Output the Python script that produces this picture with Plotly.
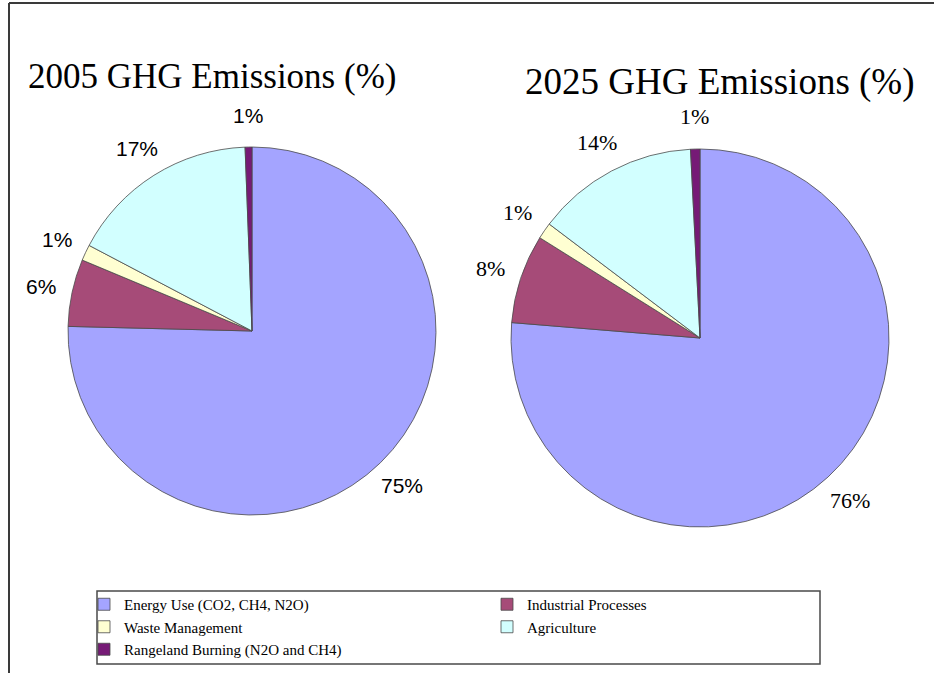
import math
import plotly.graph_objects as go

categories = ["Energy Use (CO2, CH4, N2O)", "Industrial Processes", "Waste Management",
              "Agriculture", "Rangeland Burning (N2O and CH4)"]
values_2005 = [75.4, 5.9, 1.4, 16.7, 0.6]
values_2025 = [76.3, 7.6, 1.4, 13.9, 0.8]
titles = ["2005 GHG Emissions (%)", "2025 GHG Emissions (%)"]
colors = ["#A4A4FF", "#A64B78", "#FFFFD2", "#D2FFFF", "#761A76"]

W, H = 934, 673
# pie geometry in pixels: (cx, cy, r)
geoms = [(252, 331, 184), (700, 338, 189)]
label_fonts = [dict(family="Liberation Sans, Arial", size=21, color="black"),
               dict(family="Liberation Serif, Times New Roman", size=22, color="black")]

fig = go.Figure()
annotations = []
for i, (vals, (cx, cy, r)) in enumerate(zip([values_2005, values_2025], geoms)):
    fig.add_trace(go.Pie(
        labels=categories, values=vals, sort=False, direction="clockwise", rotation=0,
        marker=dict(colors=colors, line=dict(color="#4a4a4a", width=0.8)),
        textinfo="none", hoverinfo="label+percent",
        domain=dict(x=[(cx - r) / W, (cx + r) / W], y=[1 - (cy + r) / H, 1 - (cy - r) / H]),
        showlegend=(i == 0),
    ))
    total = sum(vals)
    cum = 0
    for v in vals:
        mid = (cum + v / 2) / total * 2 * math.pi
        cum += v
        d = r * 1.17
        px = cx + d * math.sin(mid)
        py = cy - d * math.cos(mid)
        annotations.append(dict(
            x=px / W, y=1 - py / H, xref="paper", yref="paper",
            text=f"{round(v / total * 100)}%", showarrow=False,
            xanchor="center", yanchor="middle", font=label_fonts[i]))

annotations.append(dict(x=212 / W, y=1 - 76 / H, xref="paper", yref="paper", text=titles[0],
                        showarrow=False, xanchor="center", yanchor="middle",
                        font=dict(family="Liberation Serif, Times New Roman", size=35, color="black")))
annotations.append(dict(x=720 / W, y=1 - 82 / H, xref="paper", yref="paper", text=titles[1],
                        showarrow=False, xanchor="center", yanchor="middle",
                        font=dict(family="Liberation Serif, Times New Roman", size=37, color="black")))

shapes = [
    dict(type="line", xref="paper", yref="paper", x0=9 / W, x1=1, y0=1 - 3 / H, y1=1 - 3 / H,
         line=dict(color="#3a3a3a", width=2)),
    dict(type="line", xref="paper", yref="paper", x0=9 / W, x1=9 / W, y0=1 - 3 / H, y1=0,
         line=dict(color="#3a3a3a", width=2)),
    dict(type="rect", xref="paper", yref="paper", x0=97 / W, x1=820 / W,
         y0=1 - 664 / H, y1=1 - 591 / H, line=dict(color="#4a4a4a", width=1.5)),
]

fig.update_layout(
    width=W, height=H, margin=dict(l=0, r=0, t=0, b=0, autoexpand=False),
    paper_bgcolor="white", plot_bgcolor="white",
    annotations=annotations, shapes=shapes,
    legend=dict(orientation="h", x=84 / W, xanchor="left", y=1 - 588 / H, yanchor="top",
                entrywidth=358, entrywidthmode="pixels", traceorder="normal",
                font=dict(family="Liberation Serif, Times New Roman", size=15, color="black"),
                bgcolor="rgba(0,0,0,0)", borderwidth=0, itemclick=False),
)

fig.write_html("out.html")
